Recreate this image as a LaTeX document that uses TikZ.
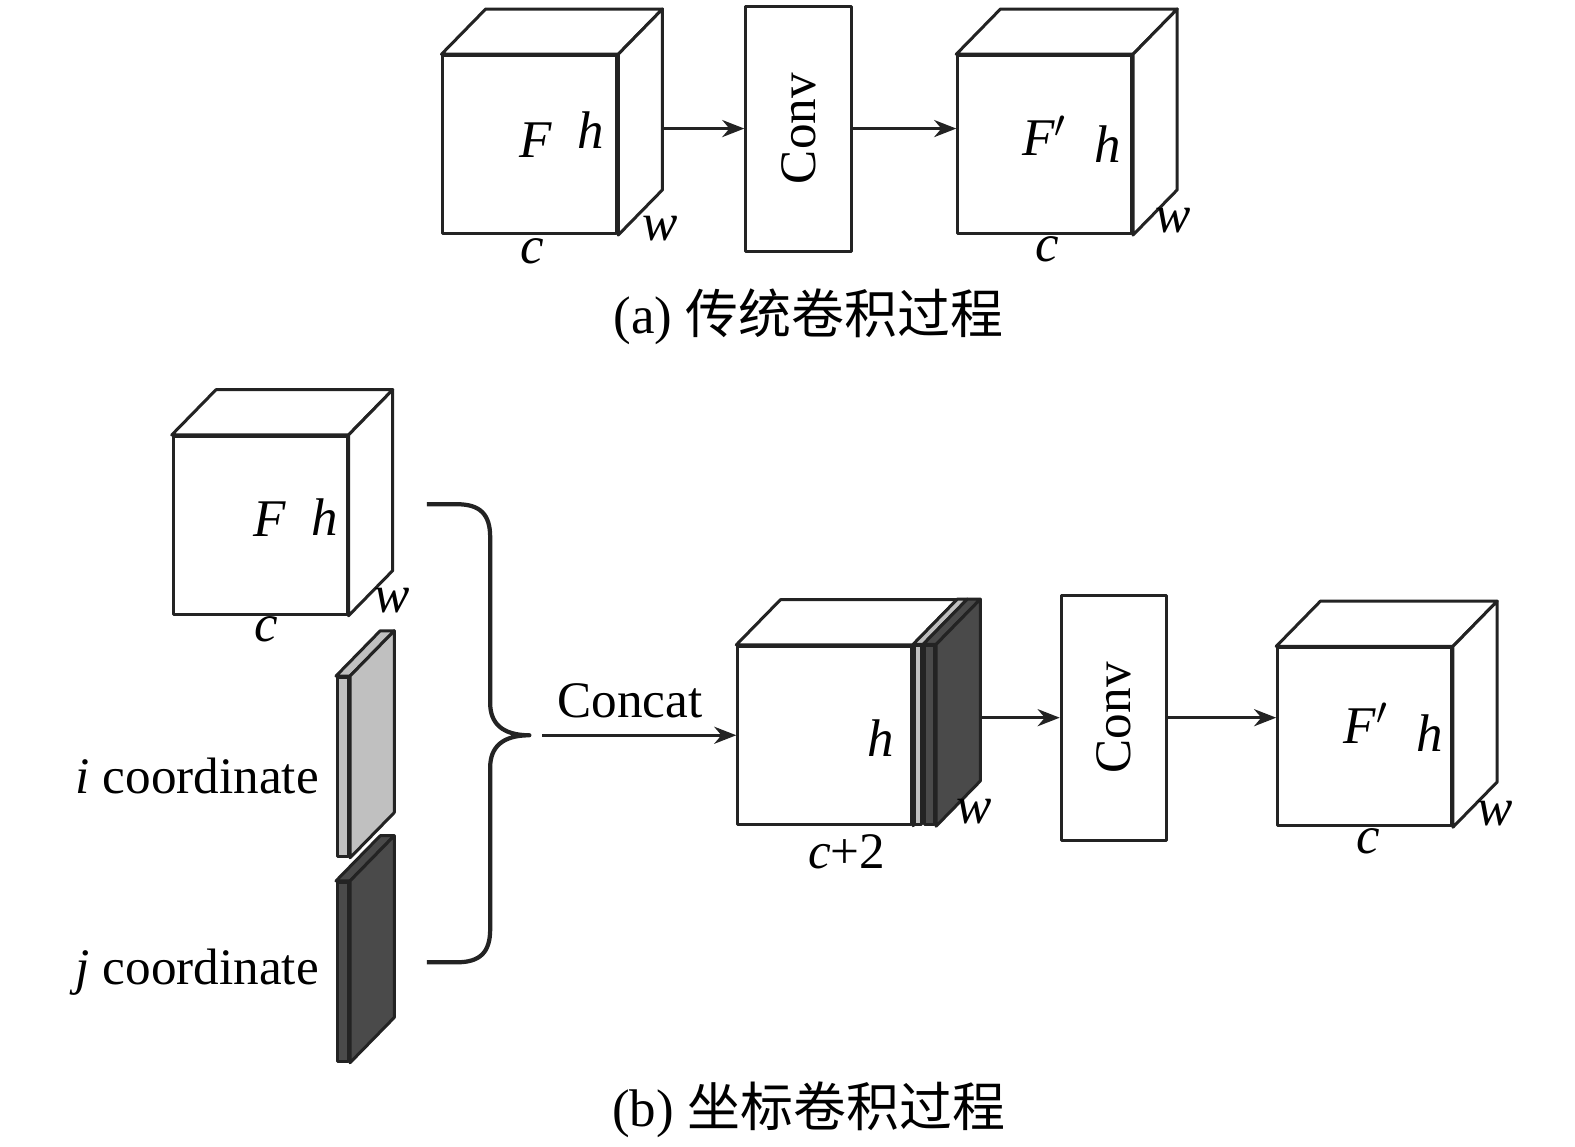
\documentclass[tikz,border=0pt]{standalone}
\usepackage{fontspec}
\setmainfont{Liberation Serif}
\newfontfamily\cjk{Noto Sans CJK SC}
\usepackage{tikz}
\usetikzlibrary{arrows.meta, positioning, calc}
\definecolor{inkgray}{RGB}{35, 35, 35}
\definecolor{igray}{RGB}{192, 192, 192}
\definecolor{jgray}{RGB}{74, 74, 74}

\tikzset{
  edge/.style={draw=inkgray, line width=0.85pt, line join=round},
  face/.style={edge, fill=white, minimum width=1.73cm, minimum height=1.77cm, inner sep=0pt},
  strip/.style={edge, minimum height=1.78cm, inner sep=0pt},
  convbox/.style={edge, minimum width=1.05cm, minimum height=2.44cm, inner sep=0pt},
  arr/.style={-{Stealth[length=2.2mm, width=1.7mm]}, draw=inkgray, line width=0.85pt},
  lbl/.style={font=\fontsize{14.5}{17}\selectfont, inner sep=1pt},
  var/.style={lbl, font=\fontsize{15}{17}\selectfont\itshape},
  caption/.style={font=\fontsize{15}{18}\selectfont},
}

% depth of a cube (back face offset)
\def\dx{0.44}
\def\dy{0.45}
% name, node style, centre, fill of top and side face
\newcommand{\featcube}[4]{%
  \node[#2] (#1) at (#3) {};
  \filldraw[edge, fill=#4] (#1.north west) -- ++(\dx,\dy) -- ($(#1.north east)+(\dx,\dy)$) -- (#1.north east) -- cycle;
  \filldraw[edge, fill=#4] (#1.north east) -- ++(\dx,\dy) -- ($(#1.south east)+(\dx,\dy)$) -- (#1.south east) -- cycle;
}

\begin{document}
\begin{tikzpicture}
    \useasboundingbox (0,0) rectangle (15.68,-11.41);

    % (a) plain convolution
    \featcube{fa}{face}{5.275,-1.44}{white}
    \node[convbox] (conva) at (7.95,-1.28) {};
    \node[lbl, rotate=90] (convatext) at (conva) {Conv};
    \featcube{fao}{face}{10.40,-1.44}{white}
    \draw[arr] (conva.west -| {$(fa.east)+(\dx,0)$}) -- (conva.west);
    \draw[arr] (conva.east) -- (conva.east -| fao.west);

    \node[var] (fav) at (5.33,-1.40) {F};
    \node[var] (fah) at (5.88,-1.30) {h};
    \node[var] (faw) at (6.57,-2.28) {w};
    \node[var] (fac) at (5.30,-2.50) {c};
    \node[var] (faov) at (10.40,-1.35) {F$'$};
    \node[var] (faoh) at (11.03,-1.43) {h};
    \node[var] (faow) at (11.68,-2.20) {w};
    \node[var] (faoc) at (10.43,-2.48) {c};

    \node[caption] (capa) at (8.05,-3.15) {(a) {\cjk 传统卷积过程}};

    % (b) coordinate convolution
    \featcube{fb}{face}{2.59,-5.23}{white}
    \node[var] (fbv) at (2.68,-5.17) {F};
    \node[var] (fbh) at (3.23,-5.15) {h};
    \node[var] (fbw) at (3.90,-5.98) {w};
    \node[var] (fbc) at (2.65,-6.26) {c};

    \featcube{islab}{strip, fill=igray, minimum width=0.11cm}{3.415,-7.635}{igray}
    \featcube{jslab}{strip, fill=jgray, minimum width=0.11cm}{3.415,-9.675}{jgray}
    \node[lbl, left=0.13cm of islab, yshift=-0.09cm] (ilabel) {\textit{i} coordinate};
    \node[lbl, left=0.13cm of jslab, yshift=0cm] (jlabel) {\textit{j} coordinate};

    % brace
    \coordinate (tip) at (5.27,-7.32);
    \draw[edge, line width=1.2pt] (4.25,-5.02) -- (4.55,-5.02) .. controls (4.78,-5.02) and (4.88,-5.12) .. (4.88,-5.35)
        -- (4.88,-7.00) .. controls (4.88,-7.20) and (5.00,-7.32) .. (tip)
        .. controls (5.00,-7.32) and (4.88,-7.44) .. (4.88,-7.64)
        -- (4.88,-9.25) .. controls (4.88,-9.48) and (4.78,-9.58) .. (4.55,-9.58) -- (4.25,-9.58);

    % concatenated tensor
    \featcube{cc}{face}{8.21,-7.32}{white}
    \node[strip, fill=igray, minimum width=0.07cm, anchor=west] (cci) at (cc.east) {};
    \filldraw[edge, fill=igray] (cci.north west) -- ++(\dx,\dy) -- ($(cci.north east)+(\dx,\dy)$) -- (cci.north east) -- cycle;
    \node[strip, fill=jgray, minimum width=0.1cm, anchor=west] (ccj) at (cci.east) {};
    \filldraw[edge, fill=jgray] (ccj.north west) -- ++(\dx,\dy) -- ($(ccj.north east)+(\dx,\dy)$) -- (ccj.north east) -- cycle;
    \filldraw[edge, fill=jgray] (ccj.north east) -- ++(\dx,\dy) -- ($(ccj.south east)+(\dx,\dy)$) -- (ccj.south east) -- cycle;
    \draw[arr] ($(tip)+(0.13,0)$) -- (tip -| cc.west);
    \node[lbl] (concat) at (6.27,-6.98) {Concat};
    \node[var] (cch) at (8.77,-7.35) {h};
    \node[var] (ccw) at (9.70,-8.08) {w};
    \node[lbl] (ccc) at (8.43,-8.48) {\textit{c}+2};

    \node[convbox] (convb) at (11.09,-7.145) {};
    \node[lbl, rotate=90] (convbtext) at (convb) {Conv};
    \featcube{fbo}{face}{13.585,-7.335}{white}
    \draw[arr] (convb.west -| {$(ccj.east)+(\dx,0)$}) -- (convb.west);
    \draw[arr] (convb.east) -- (convb.east -| fbo.west);
    \node[var] (fbov) at (13.60,-7.20) {F$'$};
    \node[var] (fboh) at (14.23,-7.30) {h};
    \node[var] (fbow) at (14.88,-8.10) {w};
    \node[var] (fboc) at (13.62,-8.38) {c};

    \node[caption] (capb) at (8.05,-11.05) {(b) {\cjk 坐标卷积过程}};
\end{tikzpicture}
\end{document}
